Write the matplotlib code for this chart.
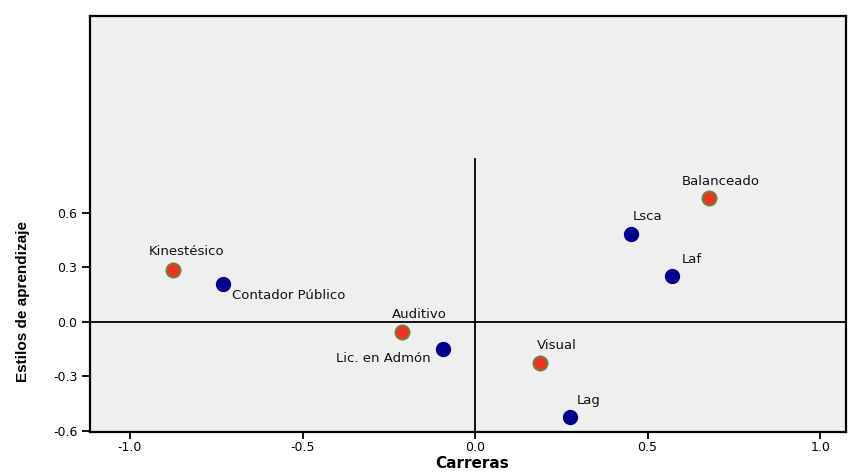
import matplotlib
matplotlib.use("Agg")
import matplotlib.pyplot as plt

plt.rcParams['font.family'] = ['DejaVu Sans']

# Learning styles (red points)
style_names = ["Kinestésico", "Auditivo", "Visual", "Balanceado"]
style_x = [-0.876, -0.212, 0.188, 0.678]
style_y = [0.286, -0.055, -0.224, 0.682]

# Careers (blue points)
career_names = ["Contador Público", "Lic. en Admón", "Lag", "Lsca", "Laf"]
career_x = [-0.730, -0.092, 0.275, 0.452, 0.570]
career_y = [0.210, -0.147, -0.525, 0.486, 0.254]

x_ticks = [-1.0, -0.5, 0.0, 0.5, 1.0]
y_ticks = [-0.6, -0.3, 0.0, 0.3, 0.6]

# label offsets in pixels (dx, dy, ha)
style_offsets = [(-24, 18, 'left'), (-10, 17, 'left'), (-3, 17, 'left'), (-27, 16, 'left')]
career_offsets = [(9, -12, 'left'), (-13, -10, 'right'), (7, 17, 'left'), (2, 17, 'left'), (10, 16, 'left')]

fig = plt.figure(figsize=(8.49, 4.72), dpi=100)
ax = fig.add_axes([0.106, 0.085, 0.8905, 0.881])
ax.set_facecolor('#efefef')

ax.set_xlim(-1.116, 1.075)
ax.set_ylim(-0.605, 1.683)

ax.axhline(0, color='black', lw=1.3, zorder=1)
ax.plot([0, 0], [-0.605, 0.897], color='black', lw=1.3, zorder=1)

ax.plot(career_x, career_y, 'o', ms=10, color='#00008b', mec='#00008b', zorder=3)
ax.plot(style_x, style_y, 'o', ms=10, color='#ee3322', mec='#7a7a3a', mew=1.5, zorder=3)

for name, x, y, (dx, dy, ha) in zip(style_names, style_x, style_y, style_offsets):
    ax.annotate(name, (x, y), xytext=(dx, dy), textcoords='offset pixels',
                ha=ha, va='center', fontsize=9.5, color='#111111')
for name, x, y, (dx, dy, ha) in zip(career_names, career_x, career_y, career_offsets):
    ax.annotate(name, (x, y), xytext=(dx, dy), textcoords='offset pixels',
                ha=ha, va='center', fontsize=9.5, color='#111111')

ax.set_xticks(x_ticks)
ax.set_xticklabels([f"{v:.1f}" for v in x_ticks])
ax.set_yticks(y_ticks)
ax.set_yticklabels([f"{v:.1f}" for v in y_ticks])
ax.tick_params(direction='out', length=6, width=1.3, labelsize=9, colors='black', pad=3)
ax.tick_params(axis='x', length=5, pad=1.5)

for s in ax.spines.values():
    s.set_linewidth(1.6)
    s.set_color('black')

ax.set_xlabel("Carreras", fontsize=11, fontweight='bold', va='center')
ax.xaxis.set_label_coords(0.505, -0.075)
ax.set_ylabel("Estilos de aprendizaje", fontsize=11, fontweight='bold',
              family=['Liberation Sans Narrow', 'Liberation Sans', 'DejaVu Sans'])
ax.yaxis.set_label_coords(-0.08, 0.3125)

fig.savefig("out.png", dpi=100, facecolor='white')
